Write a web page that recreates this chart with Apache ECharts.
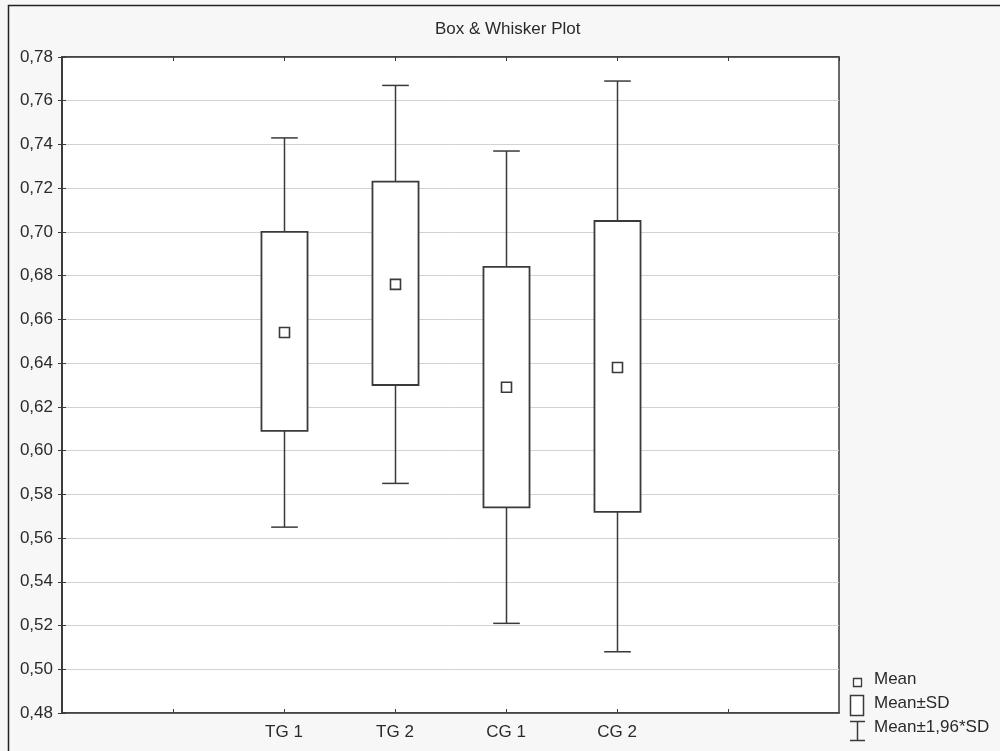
<!DOCTYPE html>
<html>
<head>
<meta charset="utf-8">
<title>Box &amp; Whisker Plot</title>
<script src="https://cdn.jsdelivr.net/npm/echarts@6/dist/echarts.min.js"></script>
<style>
  html, body { margin: 0; padding: 0; background: #f7f7f7; }
  #chart { width: 1000px; height: 751px; }
</style>
</head>
<body>
<div id="chart"></div>
<script>
// Groups along the x axis
const categories = ['TG 1', 'TG 2', 'CG 1', 'CG 2'];
// Mean of each group
const means = [0.654, 0.676, 0.629, 0.638];
// Box: Mean-SD .. Mean+SD
const sdLow = [0.609, 0.630, 0.574, 0.572];
const sdHigh = [0.700, 0.723, 0.684, 0.705];
// Whiskers: Mean-1,96*SD .. Mean+1,96*SD
const ciLow = [0.565, 0.585, 0.521, 0.508];
const ciHigh = [0.743, 0.767, 0.737, 0.769];
// Y axis range and step
const yMin = 0.48, yMax = 0.78, yStep = 0.02;

// x axis slots: two empty slots before the groups, one after
const leadingSlots = 2;
const slotCount = categories.length + leadingSlots + 1;

const ink = '#3a3a3a';
const font = 'Liberation Sans, Arial, sans-serif';

const seriesData = categories.map((c, i) => [
  i + leadingSlots, means[i], sdLow[i], sdHigh[i], ciLow[i], ciHigh[i]
]);

function renderBox(params, api) {
  const x = api.value(0);
  const slot = api.size([1, 0])[0];
  const boxW = slot * 0.415;
  const capW = slot * 0.24;
  const pMean = api.coord([x, api.value(1)]);
  const pLo = api.coord([x, api.value(2)]);
  const pHi = api.coord([x, api.value(3)]);
  const pWLo = api.coord([x, api.value(4)]);
  const pWHi = api.coord([x, api.value(5)]);
  const cx = Math.round(pMean[0]) + 0.5;
  const lineStyle = { stroke: ink, lineWidth: 1.5, fill: null };
  const m = 10;
  return {
    type: 'group',
    children: [
      { type: 'line', shape: { x1: cx, y1: pWHi[1], x2: cx, y2: pHi[1] }, style: lineStyle },
      { type: 'line', shape: { x1: cx, y1: pLo[1], x2: cx, y2: pWLo[1] }, style: lineStyle },
      { type: 'line', shape: { x1: cx - capW / 2, y1: pWHi[1], x2: cx + capW / 2, y2: pWHi[1] }, style: lineStyle },
      { type: 'line', shape: { x1: cx - capW / 2, y1: pWLo[1], x2: cx + capW / 2, y2: pWLo[1] }, style: lineStyle },
      { type: 'rect', shape: { x: cx - boxW / 2, y: pHi[1], width: boxW, height: pLo[1] - pHi[1] },
        style: { stroke: ink, lineWidth: 1.8, fill: '#ffffff' } },
      { type: 'rect', shape: { x: cx - m / 2, y: pMean[1] - m / 2, width: m, height: m },
        style: { stroke: ink, lineWidth: 1.6, fill: '#ffffff' } }
    ]
  };
}

const chart = echarts.init(document.getElementById('chart'), null, { renderer: 'canvas' });

const legendX = 850;
chart.setOption({
  backgroundColor: '#f7f7f7',
  animation: false,
  textStyle: { fontFamily: font },
  grid: {
    left: 62, top: 57, right: 161, bottom: 38,
    show: true, backgroundColor: '#ffffff', borderColor: ink, borderWidth: 1.5
  },
  xAxis: [
    {
      type: 'value', min: 0, max: slotCount, interval: 1, position: 'bottom',
      axisLine: { show: true, lineStyle: { color: ink, width: 1.5 } },
      axisTick: { show: true, inside: true, length: 4, lineStyle: { color: ink } },
      splitLine: { show: false },
      axisLabel: {
        margin: 11, color: '#2a2a2a', fontSize: 17, fontFamily: font,
        showMinLabel: false, showMaxLabel: false,
        formatter: v => categories[v - leadingSlots] || ''
      }
    },
    {
      type: 'value', min: 0, max: slotCount, interval: 1, position: 'top',
      axisLine: { show: true, lineStyle: { color: ink, width: 1.5 } },
      axisTick: { show: true, inside: true, length: 4, lineStyle: { color: ink } },
      splitLine: { show: false },
      axisLabel: { show: false }
    }
  ],
  yAxis: [
    {
      type: 'value', min: yMin, max: yMax, interval: yStep, position: 'left',
      axisLine: { show: true, lineStyle: { color: ink, width: 1.5 } },
      axisTick: { show: true, inside: false, length: 4, lineStyle: { color: ink } },
      splitLine: { show: true, lineStyle: { color: '#d2d2d2', width: 1 } },
      axisLabel: {
        margin: 9, color: '#2a2a2a', fontSize: 17, fontFamily: font,
        formatter: v => v.toFixed(2).replace('.', ',')
      }
    },
    {
      type: 'value', min: yMin, max: yMax, interval: yStep, position: 'right',
      axisLine: { show: true, lineStyle: { color: ink, width: 1.5 } },
      axisTick: { show: true, inside: false, length: 4, lineStyle: { color: ink } },
      splitLine: { show: false },
      axisLabel: { show: false }
    }
  ],
  series: [{
    type: 'custom',
    xAxisIndex: 0,
    yAxisIndex: 0,
    renderItem: renderBox,
    encode: { x: 0, y: [1, 2, 3, 4, 5] },
    data: seriesData,
    clip: false,
    z: 5
  }],
  graphic: [
    // outer frame
    { type: 'polyline', shape: { points: [[8.5, 760], [8.5, 5.5], [1010, 5.5]] },
      style: { stroke: '#222', lineWidth: 1.5, fill: null }, silent: true },
    // title
    { type: 'text', left: 435, top: 21,
      style: { text: 'Box & Whisker Plot', font: '17px ' + font, fill: '#2a2a2a' } },
    // legend: mean marker
    { type: 'rect', shape: { x: legendX + 3.5, y: 678.5, width: 8, height: 8 },
      style: { stroke: ink, lineWidth: 1.3, fill: '#ffffff' } },
    { type: 'text', left: legendX + 24, top: 671,
      style: { text: 'Mean', font: '17px ' + font, fill: '#2a2a2a' } },
    // legend: box
    { type: 'rect', shape: { x: legendX + 0.5, y: 695.5, width: 13, height: 20 },
      style: { stroke: ink, lineWidth: 1.5, fill: '#ffffff' } },
    { type: 'text', left: legendX + 24, top: 695,
      style: { text: 'Mean±SD', font: '17px ' + font, fill: '#2a2a2a' } },
    // legend: whisker
    { type: 'group', children: [
      { type: 'line', shape: { x1: legendX + 7.5, y1: 721, x2: legendX + 7.5, y2: 740 },
        style: { stroke: ink, lineWidth: 1.5 } },
      { type: 'line', shape: { x1: legendX, y1: 721.5, x2: legendX + 15, y2: 721.5 },
        style: { stroke: ink, lineWidth: 1.5 } },
      { type: 'line', shape: { x1: legendX, y1: 740.5, x2: legendX + 15, y2: 740.5 },
        style: { stroke: ink, lineWidth: 1.5 } }
    ] },
    { type: 'text', left: legendX + 24, top: 719,
      style: { text: 'Mean±1,96*SD', font: '17px ' + font, fill: '#2a2a2a' } }
  ]
});
</script>
</body>
</html>
